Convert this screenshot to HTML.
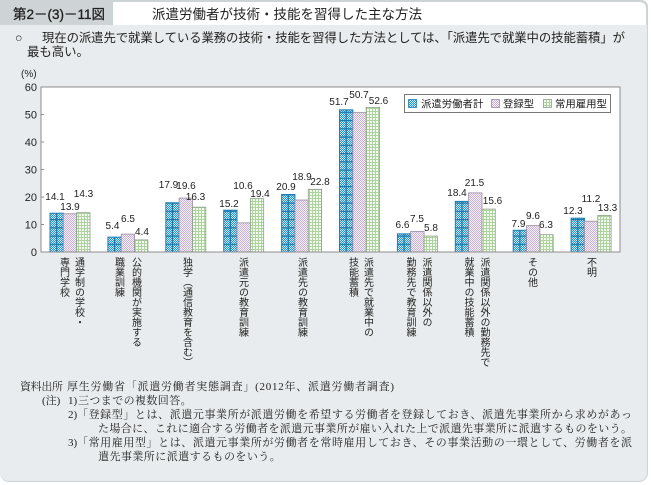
<!DOCTYPE html>
<html><head><meta charset="utf-8">
<style>
html,body{margin:0;padding:0;background:#fff;}
#c{position:relative;width:651px;height:485px;overflow:hidden;background:#fff;}
#panel{position:absolute;left:0;top:0;width:647px;height:481px;background:#e9ecee;border:1px solid #cfd3d6;border-top:none;border-left:none;border-radius:0 7px 9px 9px;}
#band{position:absolute;left:0;top:0;width:648px;height:25px;background:#ced3d6;border-radius:0 7px 0 0;}
#tbox{position:absolute;left:113px;top:2px;width:533px;height:23px;background:#fff;border-radius:0 6px 0 0;}
.vl{position:absolute;top:257px;writing-mode:vertical-rl;font-family:"Liberation Sans","Noto Sans CJK JP",sans-serif;font-size:10px;line-height:15px;color:#222;white-space:nowrap;}
svg{position:absolute;left:0;top:0;}
</style></head><body>
<div id="c">
<div id="panel"></div>
<div id="band"></div>
<div id="tbox"></div>
<svg width="651" height="485" viewBox="0 0 651 485">
<defs>
<pattern id="pb" width="2" height="2" patternUnits="userSpaceOnUse"><rect width="2" height="2" fill="#2d95cb"/><rect width="1" height="1" fill="#c6e6f6"/><rect x="1" y="1" width="1" height="1" fill="#c6e6f6"/></pattern>
<pattern id="pbh" x="0" y="252" width="20" height="8.25" patternUnits="userSpaceOnUse"><rect width="20" height="1.2" fill="#1a78ab"/></pattern>
<pattern id="pp" width="2" height="2" patternUnits="userSpaceOnUse"><rect width="2" height="2" fill="#f6f1f8"/><rect width="1" height="1" fill="#c7b1d7"/><rect x="1" y="1" width="1" height="1" fill="#c7b1d7"/></pattern>
<pattern id="pg" width="3" height="3" patternUnits="userSpaceOnUse"><rect width="3" height="3" fill="#f5faf2"/><rect width="3" height="1" fill="#acd49d"/><rect width="1" height="3" fill="#acd49d"/></pattern>
</defs>

<g font-family="Liberation Sans, Noto Sans CJK JP, sans-serif" fill="#222">
<text x="13" y="19" font-size="13.5" stroke="#222" stroke-width="0.3">第2－(3)－11図</text>
<text x="152" y="19" font-size="13.5" textLength="270" lengthAdjust="spacing">派遣労働者が技術・技能を習得した主な方法</text>
<text x="15" y="42" font-size="12.4">○</text>
<text x="42" y="42" font-size="12.4" textLength="583" lengthAdjust="spacing">現在の派遣先で就業している業務の技術・技能を習得した方法としては、「派遣先で就業中の技能蓄積」が</text>
<text x="27" y="56" font-size="12.4">最も高い。</text>
</g>

<rect x="41" y="87" width="579" height="165" fill="#fff"/>

<g font-family="Liberation Sans, sans-serif" font-size="11" fill="#222" text-anchor="end">
<text x="37" y="91">60</text>
<text x="37" y="118.5">50</text>
<text x="37" y="146">40</text>
<text x="37" y="173.5">30</text>
<text x="37" y="201">20</text>
<text x="37" y="228.5">10</text>
<text x="37" y="256">0</text>
</g>
<text x="21" y="77" font-family="Liberation Sans, sans-serif" font-size="10" fill="#222">(%)</text>
<g stroke="#8d8d8d" stroke-width="1">
<line x1="41" y1="114.5" x2="44" y2="114.5"/>
<line x1="41" y1="142" x2="44" y2="142"/>
<line x1="41" y1="169.5" x2="44" y2="169.5"/>
<line x1="41" y1="197" x2="44" y2="197"/>
<line x1="41" y1="224.5" x2="44" y2="224.5"/>
</g>

<g stroke="#1a7fb4" stroke-width="1">
<rect x="50" y="213.22" width="13.33" height="38.78" fill="url(#pb)"/>
<rect x="107.9" y="237.15" width="13.33" height="14.85" fill="url(#pb)"/>
<rect x="165.8" y="202.77" width="13.33" height="49.23" fill="url(#pb)"/>
<rect x="223.7" y="210.2" width="13.33" height="41.8" fill="url(#pb)"/>
<rect x="281.6" y="194.52" width="13.33" height="57.48" fill="url(#pb)"/>
<rect x="339.5" y="109.82" width="13.33" height="142.18" fill="url(#pb)"/>
<rect x="397.4" y="233.85" width="13.33" height="18.15" fill="url(#pb)"/>
<rect x="455.3" y="201.4" width="13.33" height="50.6" fill="url(#pb)"/>
<rect x="513.2" y="230.27" width="13.33" height="21.73" fill="url(#pb)"/>
<rect x="571.1" y="218.17" width="13.33" height="33.83" fill="url(#pb)"/>
</g>
<g stroke="none" fill="url(#pbh)">
<rect x="50" y="213.22" width="13.33" height="38.78"/>
<rect x="107.9" y="237.15" width="13.33" height="14.85"/>
<rect x="165.8" y="202.77" width="13.33" height="49.23"/>
<rect x="223.7" y="210.2" width="13.33" height="41.8"/>
<rect x="281.6" y="194.52" width="13.33" height="57.48"/>
<rect x="339.5" y="109.82" width="13.33" height="142.18"/>
<rect x="397.4" y="233.85" width="13.33" height="18.15"/>
<rect x="455.3" y="201.4" width="13.33" height="50.6"/>
<rect x="513.2" y="230.27" width="13.33" height="21.73"/>
<rect x="571.1" y="218.17" width="13.33" height="33.83"/>
</g>
<g stroke="#1a78ab" stroke-width="1.2">
<line x1="56.67" y1="213.22" x2="56.67" y2="252"/>
<line x1="114.57" y1="237.15" x2="114.57" y2="252"/>
<line x1="172.47" y1="202.77" x2="172.47" y2="252"/>
<line x1="230.37" y1="210.2" x2="230.37" y2="252"/>
<line x1="288.27" y1="194.52" x2="288.27" y2="252"/>
<line x1="346.17" y1="109.82" x2="346.17" y2="252"/>
<line x1="404.07" y1="233.85" x2="404.07" y2="252"/>
<line x1="461.97" y1="201.4" x2="461.97" y2="252"/>
<line x1="519.87" y1="230.27" x2="519.87" y2="252"/>
<line x1="577.77" y1="218.17" x2="577.77" y2="252"/>
</g>

<g stroke="#9a8ca2" stroke-width="0.8" fill="url(#pp)">
<rect x="63.33" y="213.77" width="13.33" height="38.23"/>
<rect x="121.23" y="234.12" width="13.33" height="17.88"/>
<rect x="179.13" y="198.1" width="13.33" height="53.9"/>
<rect x="237.03" y="222.85" width="13.33" height="29.15"/>
<rect x="294.93" y="200.02" width="13.33" height="51.98"/>
<rect x="352.83" y="112.57" width="13.33" height="139.43"/>
<rect x="410.73" y="231.37" width="13.33" height="20.63"/>
<rect x="468.63" y="192.87" width="13.33" height="59.13"/>
<rect x="526.53" y="225.6" width="13.33" height="26.4"/>
<rect x="584.43" y="221.2" width="13.33" height="30.8"/>
</g>

<g stroke="#8f9f8c" stroke-width="0.8" fill="url(#pg)">
<rect x="76.67" y="212.67" width="13.33" height="39.33"/>
<rect x="134.57" y="239.9" width="13.33" height="12.1"/>
<rect x="192.47" y="207.17" width="13.33" height="44.83"/>
<rect x="250.37" y="198.65" width="13.33" height="53.35"/>
<rect x="308.27" y="189.3" width="13.33" height="62.7"/>
<rect x="366.17" y="107.35" width="13.33" height="144.65"/>
<rect x="424.07" y="236.05" width="13.33" height="15.95"/>
<rect x="481.97" y="209.1" width="13.33" height="42.9"/>
<rect x="539.87" y="234.67" width="13.33" height="17.33"/>
<rect x="597.77" y="215.42" width="13.33" height="36.58"/>
</g>

<rect x="41" y="87" width="579" height="165" fill="none" stroke="#8d8d8d" stroke-width="1"/>

<g font-family="Liberation Sans, sans-serif" font-size="10" fill="#222" text-anchor="middle">
<text x="55" y="200">14.1</text>
<text x="70" y="210">13.9</text>
<text x="83.5" y="197">14.3</text>
<text x="112.5" y="229">5.4</text>
<text x="128" y="222">6.5</text>
<text x="142" y="235">4.4</text>
<text x="168.5" y="188">17.9</text>
<text x="186" y="189">19.6</text>
<text x="195.5" y="200">16.3</text>
<text x="229" y="207">15.2</text>
<text x="243" y="189">10.6</text>
<text x="260" y="197">19.4</text>
<text x="286" y="190">20.9</text>
<text x="302" y="180">18.9</text>
<text x="320" y="185">22.8</text>
<text x="339" y="105">51.7</text>
<text x="359" y="98">50.7</text>
<text x="378.5" y="104">52.6</text>
<text x="402.5" y="228">6.6</text>
<text x="417" y="222">7.5</text>
<text x="431" y="231">5.8</text>
<text x="457" y="196">18.4</text>
<text x="474.5" y="186">21.5</text>
<text x="492.5" y="204">15.6</text>
<text x="518.5" y="227">7.9</text>
<text x="533" y="219">9.6</text>
<text x="546" y="228">6.3</text>
<text x="573" y="214">12.3</text>
<text x="591" y="202">11.2</text>
<text x="607.5" y="211">13.3</text>
</g>

<rect x="404.5" y="94.5" width="206" height="18" fill="#fff" stroke="#777" stroke-width="1"/>
<rect x="408.5" y="99.5" width="8" height="8" fill="url(#pb)" stroke="#1a7fb4" stroke-width="0.8"/>
<rect x="491.5" y="99.5" width="8" height="8" fill="url(#pp)" stroke="#9a8ca2" stroke-width="0.8"/>
<rect x="543.5" y="99.5" width="8" height="8" fill="url(#pg)" stroke="#8f9f8c" stroke-width="0.8"/>
<g font-family="Liberation Sans, Noto Sans CJK JP, sans-serif" font-size="10.4" fill="#222">
<text x="421" y="107.5">派遣労働者計</text>
<text x="503" y="107.5">登録型</text>
<text x="555" y="107.5">常用雇用型</text>
</g>

<g font-family="Liberation Serif, Noto Serif CJK SC, serif" font-size="11" fill="#222">
<text x="20" y="390" textLength="43" lengthAdjust="spacing">資料出所</text>
<text x="67" y="390" textLength="327" lengthAdjust="spacing">厚生労働省「派遣労働者実態調査」(2012年、派遣労働者調査)</text>
<text x="42" y="404">(注)</text>
<text x="68" y="404">1)</text>
<text x="78" y="404" letter-spacing="0.4">三つまでの複数回答。</text>
<text x="68" y="418">2)</text>
<text x="77" y="418" textLength="555" lengthAdjust="spacing">「登録型」とは、派遣元事業所が派遣労働を希望する労働者を登録しておき、派遣先事業所から求めがあっ</text>
<text x="98" y="432" textLength="534" lengthAdjust="spacing">た場合に、これに適合する労働者を派遣元事業所が雇い入れた上で派遣先事業所に派遣するものをいう。</text>
<text x="68" y="446">3)</text>
<text x="77" y="446" textLength="555" lengthAdjust="spacing">「常用雇用型」とは、派遣元事業所が労働者を常時雇用しておき、その事業活動の一環として、労働者を派</text>
<text x="98" y="460" letter-spacing="0.45">遣先事業所に派遣するものをいう。</text>
</g>
</svg>

<div class="vl" style="left:55.5px;">通学制の学校・<br>専門学校</div>
<div class="vl" style="left:109.5px;line-height:17px;">公的機関が実施する<br>職業訓練</div>
<div class="vl" style="left:178.5px;">独学（通信教育を含む）</div>
<div class="vl" style="left:234.5px;">派遣元の教育訓練</div>
<div class="vl" style="left:293.5px;">派遣先の教育訓練</div>
<div class="vl" style="left:344.5px;">派遣先で就業中の<br>技能蓄積</div>
<div class="vl" style="left:401px;line-height:16px;">派遣関係以外の<br>勤務先で教育訓練</div>
<div class="vl" style="left:459px;line-height:16px;">派遣関係以外の勤務先で<br>就業中の技能蓄積</div>
<div class="vl" style="left:523.5px;">その他</div>
<div class="vl" style="left:582.5px;">不明</div>
</div>
</body></html>
